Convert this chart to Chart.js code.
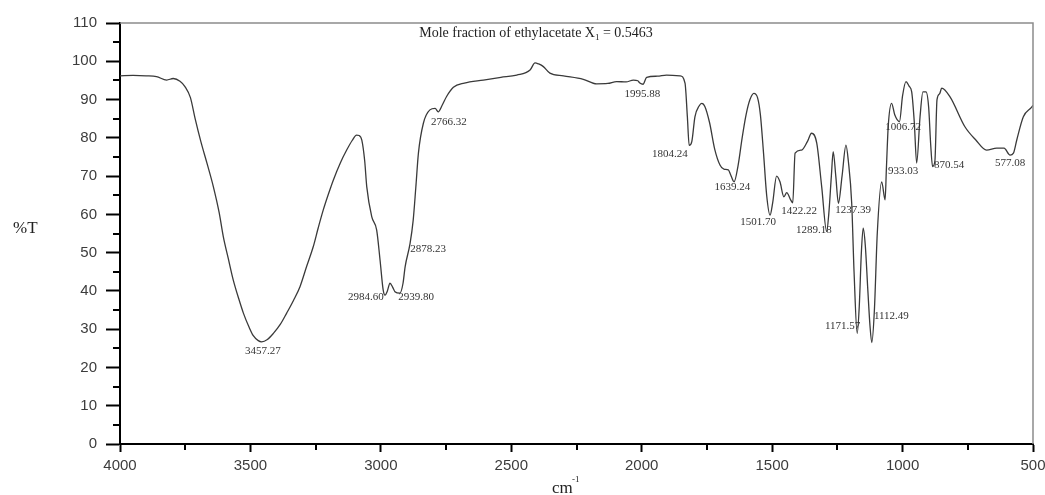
<!DOCTYPE html>
<html>
<head>
<meta charset="utf-8">
<script src="https://cdn.jsdelivr.net/npm/chart.js@4"></script>
<style>
  body { margin: 0; background: #fff; }
  #wrap { width: 1045px; height: 495px; position: relative; }
</style>
</head>
<body>
<div id="wrap"><canvas id="chart"></canvas></div>
<script>
// FTIR spectrum, wavenumber (cm-1) vs %T
const wavenumbers = [
  4000, 3950, 3900, 3860, 3821, 3796, 3770, 3751, 3730, 3712, 3690, 3665, 3642, 3620, 3604, 3585, 3566, 3545, 3527, 3505,
  3489, 3470, 3457, 3435, 3412, 3385, 3361, 3335, 3310, 3285, 3259, 3240, 3221, 3200, 3182, 3155, 3131, 3110, 3093, 3083,
  3073, 3062, 3054, 3035, 3016, 3003, 2991, 2984,
  2975, 2965, 2955, 2946, 2927, 2915, 2907, 2888, 2876, 2866, 2856, 2837, 2812, 2792, 2780, 2765, 2748, 2722, 2680, 2607,
  2540, 2479, 2428, 2409, 2395, 2377, 2352, 2300, 2224, 2173, 2130, 2096, 2060, 2032, 2015, 2007, 1995, 1981, 1940, 1905,
  1853, 1834, 1825, 1818, 1808, 1796, 1780, 1770, 1758, 1740, 1720, 1700, 1685, 1668, 1660, 1646, 1630, 1615, 1600, 1585,
  1570, 1556, 1545, 1533, 1521, 1508, 1498, 1483, 1470, 1455, 1444, 1429, 1421, 1412, 1387, 1365, 1349, 1329, 1310, 1291,
  1283, 1273, 1266, 1256, 1246, 1232, 1217, 1208, 1195, 1186, 1174, 1166, 1158, 1151, 1143, 1133, 1125, 1118, 1108, 1097,
  1080, 1067, 1062, 1055, 1042, 1030, 1012, 1000, 987, 975, 965, 955, 946, 933, 922, 910, 900, 892, 885, 876,
  868, 858, 850, 818, 761, 720, 678, 639, 611, 588, 575, 562, 537, 505, 500
];
const transmittance = [
  96.2, 96.3, 96.2, 96.0, 95.1, 95.5, 94.8, 93.4, 90.5, 85.0, 79.0, 73.0, 67.2, 60.5, 54.2, 48.5, 42.9, 38.0, 34.2, 30.5,
  28.3, 27.0, 26.7, 27.3, 28.9, 31.3, 34.2, 37.5, 41.1, 46.3, 51.6, 56.5, 61.1, 65.5, 69.0, 73.5, 76.8, 79.3, 80.7, 80.6,
  79.4, 74.0, 67.2, 59.4, 55.9, 48.0, 40.2, 38.9,
  40.0, 42.0, 41.0, 39.8, 39.4, 42.0, 46.3, 52.4, 58.5, 67.0, 76.0, 83.8, 87.3, 87.7, 86.8, 88.5, 90.8, 93.2, 94.3, 95.1,
  95.8, 96.4, 97.7, 99.6, 99.3, 98.6, 96.9, 96.2, 95.3, 94.1, 94.2, 94.7, 94.6, 95.1, 94.9, 94.3, 94.0, 95.8, 96.1, 96.4,
  96.2, 94.3, 85.5, 78.0, 79.0, 85.5, 88.3, 89.0, 88.2, 84.0, 77.0, 72.9, 71.8, 71.6, 70.5, 68.5, 73.0, 80.0, 86.0, 90.0,
  91.6, 90.5, 86.0, 76.0, 65.0, 59.8, 63.0, 70.0, 68.5, 64.6, 65.7, 63.8, 63.0, 76.0, 76.8, 79.0, 81.2, 78.6, 67.2, 55.5,
  60.0, 70.0, 76.4, 70.0, 62.9, 70.0, 78.1, 74.0, 62.9, 45.0, 28.9, 36.0, 50.0, 56.4, 52.0, 40.0, 31.0, 26.5, 35.0, 55.0,
  68.5, 63.8, 72.0, 83.0, 89.0, 86.0, 84.2, 91.0, 94.7, 93.5, 92.0, 84.0, 73.4, 85.5, 92.0, 92.0, 88.0, 78.0, 72.5, 74.0,
  90.0, 91.5, 93.0, 90.7, 82.9, 79.5, 76.8, 77.3, 77.3, 75.5, 76.0, 79.5, 85.5, 88.0, 88.5
];

// peak annotations: text and where it sits (cm-1, %T)
const peakText = ['3457.27', '2984.60', '2939.80', '2878.23', '2766.32', '1995.88', '1804.24', '1639.24', '1501.70',
  '1422.22', '1289.18', '1237.39', '1171.57', '1112.49', '1006.72', '933.03', '870.54', '577.08'];
const peakWave = [3452, 3057, 2865, 2819, 2739, 1997, 1892, 1652, 1554, 1397, 1340, 1190, 1230, 1043, 998, 998, 822, 588];
const peakT = [24.3, 38.4, 38.4, 51.0, 84.2, 91.5, 75.8, 67.2, 58.0, 60.9, 55.9, 61.1, 30.8, 33.4, 82.8, 71.3, 72.9, 73.4];

const yTicks = [0, 10, 20, 30, 40, 50, 60, 70, 80, 90, 100, 110];
const xTicks = [500, 1000, 1500, 2000, 2500, 3000, 3500, 4000];

const points = wavenumbers.map((w, i) => ({ x: w, y: transmittance[i] }));

const decor = {
  id: 'decor',
  afterDraw(chart) {
    const { ctx, chartArea: a, scales: { x, y } } = chart;
    ctx.save();
    // thin grey frame on top and right
    ctx.strokeStyle = '#8c8c8c';
    ctx.lineWidth = 1.5;
    ctx.beginPath();
    ctx.moveTo(a.left, a.top);
    ctx.lineTo(a.right, a.top);
    ctx.lineTo(a.right, a.bottom);
    ctx.stroke();

    // minor ticks
    ctx.strokeStyle = '#000';
    ctx.lineWidth = 2;
    ctx.beginPath();
    for (let v = 5; v < 110; v += 10) {
      const py = Math.round(y.getPixelForValue(v));
      ctx.moveTo(a.left - 7, py);
      ctx.lineTo(a.left, py);
    }
    for (let v = 750; v < 4000; v += 500) {
      const px = Math.round(x.getPixelForValue(v));
      ctx.moveTo(px, a.bottom);
      ctx.lineTo(px, a.bottom + 6);
    }
    ctx.stroke();

    // peak labels
    ctx.fillStyle = '#333';
    ctx.font = '11px "Liberation Serif"';
    ctx.textAlign = 'center';
    ctx.textBaseline = 'middle';
    peakText.forEach((t, i) => {
      ctx.fillText(t, x.getPixelForValue(peakWave[i]), y.getPixelForValue(peakT[i]));
    });

    // title inside the plot, with subscript
    ctx.fillStyle = '#222';
    ctx.textAlign = 'left';
    const t1 = 'Mole fraction of ethylacetate X', t2 = ' = 0.5463';
    ctx.font = '14px "Liberation Serif"';
    const w1 = ctx.measureText(t1).width;
    const w2 = ctx.measureText(t2).width;
    ctx.font = '9px "Liberation Serif"';
    const ws = ctx.measureText('1').width;
    const tx = x.getPixelForValue(2405) - (w1 + ws + w2) / 2;
    const ty = y.getPixelForValue(107.4);
    ctx.font = '14px "Liberation Serif"';
    ctx.fillText(t1, tx, ty);
    ctx.fillText(t2, tx + w1 + ws, ty);
    ctx.font = '9px "Liberation Serif"';
    ctx.fillText('1', tx + w1, ty + 5);

    // axis titles
    ctx.font = '17px "Liberation Serif"';
    ctx.fillText('%T', 13, y.getPixelForValue(56.4));
    ctx.fillText('cm', 552, 489);
    ctx.font = '9px "Liberation Serif"';
    ctx.fillText('-1', 572, 480);
    ctx.restore();
  }
};

const tickFont = { family: '"Liberation Sans", Arial, sans-serif', size: 15 };

new Chart(document.getElementById('chart'), {
  type: 'line',
  data: {
    datasets: [{
      data: points,
      borderColor: '#3a3a3a',
      borderWidth: 1.3,
      pointRadius: 0,
      cubicInterpolationMode: 'monotone',
      fill: false
    }]
  },
  options: {
    responsive: true,
    maintainAspectRatio: false,
    animation: false,
    layout: { padding: { top: 23, right: 12, left: 0, bottom: 0 } },
    plugins: { legend: { display: false }, tooltip: { enabled: false } },
    scales: {
      x: {
        type: 'linear',
        reverse: true,
        min: 500,
        max: 4000,
        afterBuildTicks: s => { s.ticks = xTicks.map(v => ({ value: v })); },
        ticks: { font: tickFont, color: '#3c3c3c', padding: 5, autoSkip: false, maxRotation: 0, callback: v => String(v) },
        grid: { drawOnChartArea: false, tickLength: 8, tickWidth: 2, tickColor: '#000' },
        border: { display: true, color: '#000', width: 2 },
        afterFit: s => { s.height = 51; s.paddingLeft = 0; s.paddingRight = 0; }
      },
      y: {
        min: 0,
        max: 110,
        afterBuildTicks: s => { s.ticks = yTicks.map(v => ({ value: v })); },
        ticks: { font: tickFont, color: '#3c3c3c', padding: 9, callback: v => String(v) },
        grid: { drawOnChartArea: false, tickLength: 14, tickWidth: 2, tickColor: '#000' },
        border: { display: true, color: '#000', width: 2 },
        afterFit: s => { s.width = 120; s.paddingTop = 0; s.paddingBottom = 0; }
      }
    }
  },
  plugins: [decor]
});
</script>
</body>
</html>
